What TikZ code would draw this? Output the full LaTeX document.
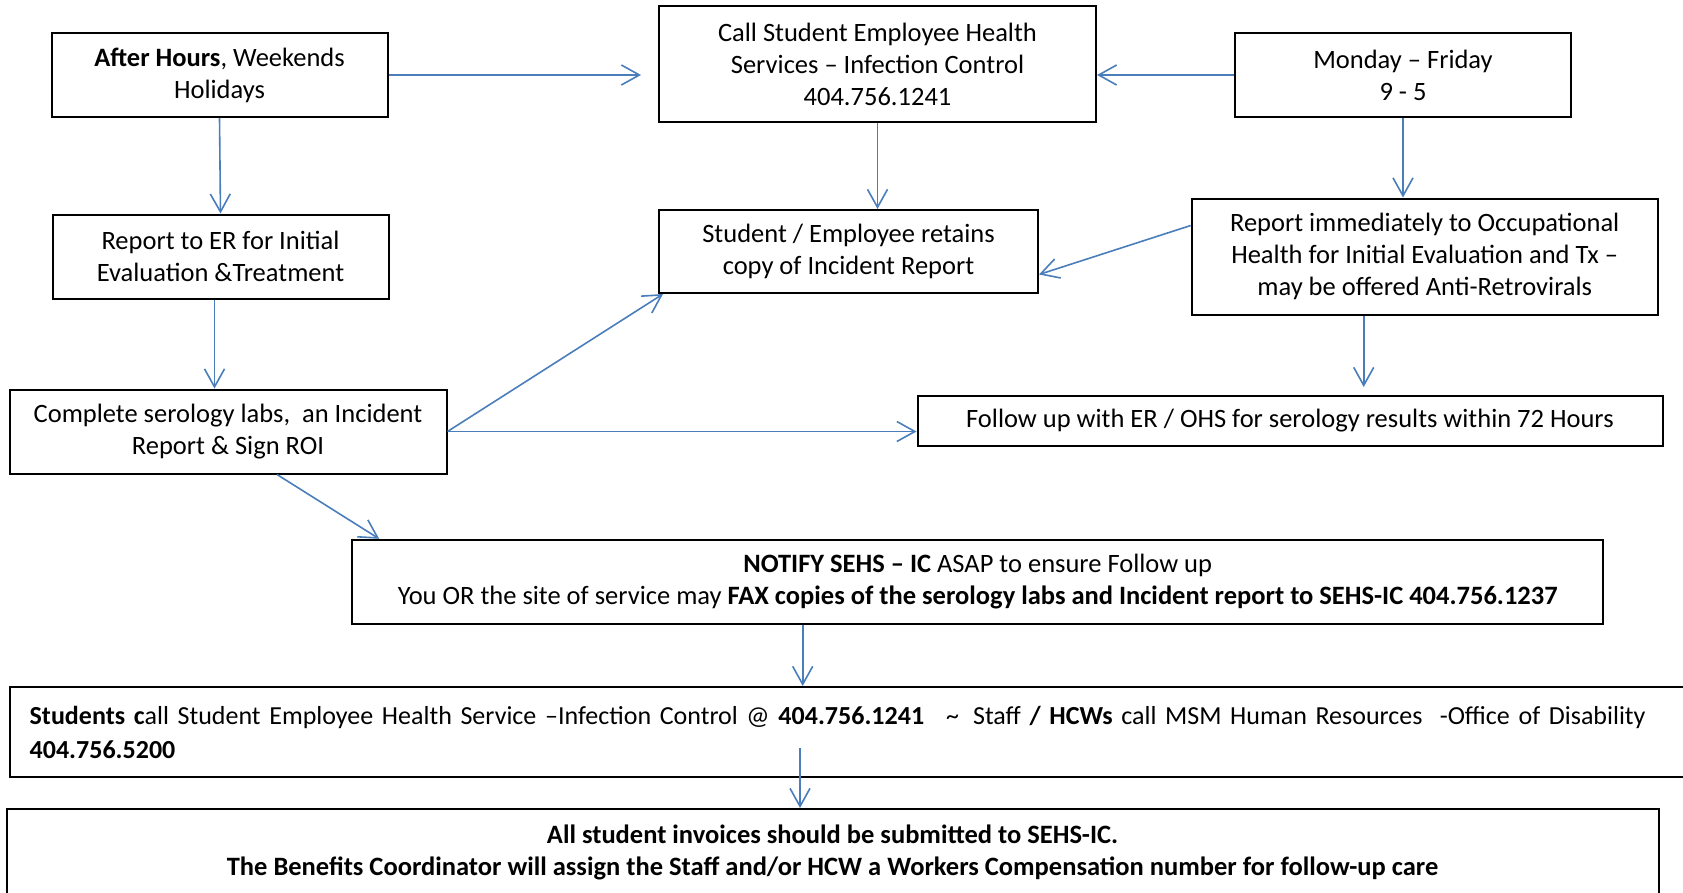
\documentclass[tikz,border=0pt]{standalone}
\usepackage{fontspec}
\setmainfont{Carlito}
\usetikzlibrary{arrows.meta}
\definecolor{linkblue}{RGB}{74,126,187}

\begin{document}
\begin{tikzpicture}[x=1pt, y=-1pt,
  box/.style={draw, line width=2pt, align=center, inner sep=0pt,
    font=\fontsize{26.5}{32}\selectfont},
  link/.style={draw=linkblue, line width=1.6pt,
    -{Straight Barb[length=18pt, width=20pt, line width=1.6pt]}}]
  \clip (0,0) rectangle (1683,892);

  % Top row
  \node[box, minimum width=336pt, minimum height=84pt] (hours) at (219.5,75)
    {\textbf{After Hours}, Weekends\\Holidays};
  \node[box, minimum width=437pt, minimum height=116pt] (call) at (877.5,64.4)
    {Call Student Employee Health\\Services – Infection Control\\404.756.1241};
  \node[box, minimum width=336pt, minimum height=84pt] (weekday) at (1403,75)
    {Monday – Friday\\9 - 5};

  % Second row
  \node[box, minimum width=336pt, minimum height=84pt] (er) at (220.5,256.5)
    {Report to ER for Initial\\Evaluation \&Treatment};
  \node[box, minimum width=379pt, minimum height=83pt] (retains) at (848.5,251.5)
    {Student / Employee retains\\copy of Incident Report};
  \node[box, minimum width=466pt, minimum height=116pt] (ohs) at (1424.7,256.5)
    {Report immediately to Occupational\\Health for Initial Evaluation and Tx –\\may be offered Anti-Retrovirals};

  % Third row
  \node[box, minimum width=437pt, minimum height=84pt] (labs) at (228,431.5)
    {Complete serology labs,\ \ an Incident\\Report \& Sign ROI};
  \node[box, minimum width=745pt, minimum height=50pt] (followup) at (1290,421)
    {Follow up with ER / OHS for serology results within 72 Hours};

  % Notification and bottom boxes
  \node[box, minimum width=1251pt, minimum height=84pt] (notify) at (977.7,581.8)
    {\textbf{NOTIFY SEHS – IC} ASAP to ensure Follow up\\
     You OR the site of service may \textbf{FAX copies of the serology labs and Incident report to SEHS-IC 404.756.1237}};
  \node[box, align=left, text width=1660pt, inner xsep=20pt, minimum height=90pt,
        font=\fontsize{26}{34}\selectfont] (calls) at (859.7,732)
    {\mbox{\textbf{Students c}all Student Employee Health Service –Infection Control @ \textbf{404.756.1241}\hspace{22pt}\textasciitilde\hspace{14pt}Staff \textbf{/ HCWs} call MSM Human Resources\ \ -Office of Disability}\\
     \textbf{404.756.5200}};
  \node[box, minimum width=1652pt, minimum height=87pt, font=\fontsize{26.5}{32}\selectfont\bfseries] (invoices) at (832.5,852.5)
    {All student invoices should be submitted to SEHS-IC.\\
     The Benefits Coordinator will assign the Staff and/or HCW a Workers Compensation number for follow-up care};
  \coordinate (split) at (800,748);

  % Connectors
  \draw[link, shorten >=17pt] (hours.east) -- (hours.east -| call.west);
  \draw[link] (weekday.west) -- (weekday.west -| call.east);
  \draw[link] (hours.south) -- (er.north);
  \draw[link] (call.south) -- (call.south |- retains.north);
  \draw[link] (weekday.south) -- (weekday.south |- ohs.north);
  \draw[link] ([yshift=31pt]ohs.west) -- ([yshift=-23pt]retains.east);
  \draw[link] ([xshift=-6pt]er.south) -- ([xshift=-6pt]er.south |- labs.north);
  \draw[link] (labs.east) -- ([xshift=5pt]retains.south west);
  \draw[link] (labs.east) -- (labs.east -| followup.west);
  \draw[link, shorten >=8pt] ([xshift=-61pt]ohs.south) -- ([xshift=-61pt]ohs.south |- followup.north);
  \draw[link] ([xshift=49pt]labs.south) -- ([xshift=28pt]notify.north west);
  \draw[link] ([xshift=-175pt]notify.south) -- ([xshift=-175pt]notify.south |- calls.north);
  \draw[link] (split) -- (split |- invoices.north);
\end{tikzpicture}
\end{document}
